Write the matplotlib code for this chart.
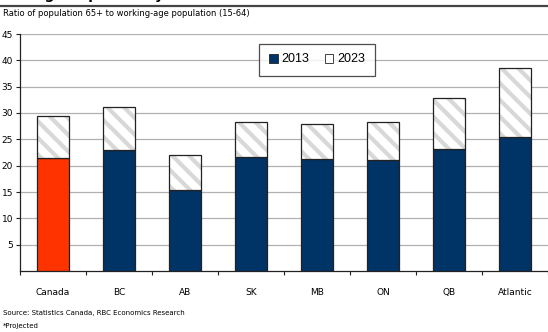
import matplotlib
matplotlib.use("Agg")
import matplotlib.pyplot as plt
from matplotlib.patches import Patch
import numpy as np

# Old-age dependency ratio, 2013 vs 2023 (projected)
regions = ["Canada", "BC", "AB", "SK", "MB", "ON", "QB", "Atlantic"]
ratio_2013 = [21.4, 23.0, 15.4, 21.7, 21.3, 21.1, 23.2, 25.4]
ratio_2023 = [29.4, 31.1, 22.0, 28.3, 28.0, 28.3, 32.9, 38.6]

navy = "#003366"
red = "#ff3300"

plt.rcParams["font.family"] = "DejaVu Sans"
plt.rcParams["hatch.linewidth"] = 3.0

fig = plt.figure(figsize=(5.48, 3.32), dpi=100)
ax = fig.add_axes([20 / 548, 1 - 271 / 332, 1 - 20 / 548, 237 / 332])

x = np.arange(len(regions))
colors = [red] + [navy] * (len(regions) - 1)
added = [b - a for a, b in zip(ratio_2013, ratio_2023)]

ax.bar(x, ratio_2013, width=0.48, color=colors, edgecolor="#222222", linewidth=0.9, zorder=3)
# hatched part: hatch drawn in light grey, outline drawn separately
ax.bar(x, added, width=0.48, bottom=ratio_2013, color="white", edgecolor="#d8d8d8",
       linewidth=0, hatch="\\\\", zorder=3)
ax.bar(x, added, width=0.48, bottom=ratio_2013, fill=False, edgecolor="#222222",
       linewidth=0.9, zorder=4)

ax.set_xlim(-0.5, len(regions) - 0.5)
ax.set_ylim(0, 45)
ax.set_yticks(range(5, 50, 5))
ax.yaxis.grid(True, color="#b0b0b0", linewidth=0.9, zorder=0)
ax.tick_params(axis="y", labelsize=6.5, length=3, width=0.8, color="#222222", pad=2)

ax.set_xticks(x)
ax.set_xticklabels(regions, fontsize=6.5)
ax.set_xticks(np.arange(-0.5, len(regions), 1), minor=True)
ax.tick_params(axis="x", which="major", length=0, pad=12)
ax.tick_params(axis="x", which="minor", length=3, width=0.8, color="#222222")

for side in ["top", "right"]:
    ax.spines[side].set_visible(False)
for side in ["left", "bottom"]:
    ax.spines[side].set_color("#222222")
    ax.spines[side].set_linewidth(0.9)

handles = [Patch(facecolor=navy, edgecolor="#222222", linewidth=0.6, label="2013"),
           Patch(facecolor="white", edgecolor="#222222", linewidth=0.6, label="2023")]
leg = fig.legend(handles=handles, loc="center", bbox_to_anchor=(317 / 548, 1 - 59.5 / 332),
                 ncol=2, frameon=True, fancybox=False,
                 prop={"family": "Liberation Sans", "size": 9},
                 handlelength=0.7, handleheight=0.7, handletextpad=0.3, columnspacing=1.2,
                 borderpad=0.8, edgecolor="#222222")
leg.get_frame().set_linewidth(0.9)

# title (partly cut by the top edge, as in the source) and header rule
fig.text(0.005, 1 - 2 / 332, "Old-age dependency ratio", fontsize=10, fontweight="bold",
         va="bottom", ha="left")
fig.add_artist(plt.Line2D([0, 1], [1 - 6 / 332, 1 - 6 / 332], color="#444444", linewidth=1.6))
fig.text(0.006, 1 - 13 / 332, "Ratio of population 65+ to working-age population (15-64)",
         fontsize=6, va="center", ha="left")

fig.text(0.006, 1 - 313 / 332, "Source: Statistics Canada, RBC Economics Research",
         fontsize=5, va="center", ha="left")
fig.text(0.006, 1 - 326 / 332, "*Projected", fontsize=5, va="center", ha="left")

fig.savefig("out.png", dpi=100)
plt.close(fig)
